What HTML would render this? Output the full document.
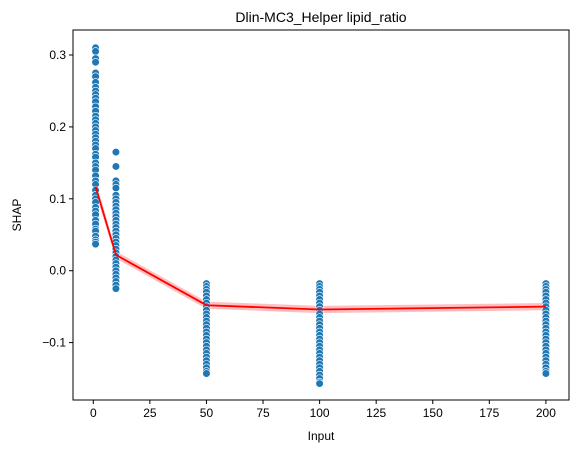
<!DOCTYPE html>
<html><head><meta charset="utf-8"><style>
body{margin:0;background:#fff}
svg text{font-family:"Liberation Sans","DejaVu Sans",sans-serif;fill:#000}
</style></head><body>
<svg id="chart" width="579" height="453" xmlns="http://www.w3.org/2000/svg">
<rect width="579" height="453" fill="#fff"/>
<text x="321" y="22" font-size="14" text-anchor="middle">Dlin-MC3_Helper lipid_ratio</text>
<text x="321" y="440" font-size="12" text-anchor="middle">Input</text>
<text x="0" y="0" font-size="12" text-anchor="middle" transform="translate(21,215) rotate(-90)">SHAP</text>
<g id="ticks"></g>
<g id="band"></g>
<g id="points"></g>
<g id="line"></g>
<rect x="73" y="30" width="496" height="370" fill="none" stroke="#000" stroke-width="1"/>
</svg>
<script>
const xTicks=[0,25,50,75,100,125,150,175,200];
const yTicks=[-0.1,0.0,0.1,0.2,0.3];
const yTickLabels=["\u22120.1","0.0","0.1","0.2","0.3"];
const groupX=[1,10,50,100,200];
const vals1=[0.31,0.305,0.295,0.29,0.275,0.27,0.262,0.255,0.25,0.245,0.24,0.235,0.228,0.222,0.215,0.21,0.205,0.2,0.195,0.19,0.185,0.18,0.175,0.17,0.162,0.158,0.15,0.145,0.14,0.132,0.125,0.12,0.112,0.105,0.1,0.095,0.088,0.083,0.078,0.07,0.065,0.058,0.055,0.048,0.043,0.04,0.037];
const vals10=[0.165,0.145,0.125,0.12,0.115,0.105,0.1,0.095,0.09,0.085,0.08,0.075,0.07,0.065,0.06,0.055,0.05,0.045,0.04,0.035,0.03,0.025,0.02,0.015,0.01,0.005,0.0,-0.005,-0.01,-0.015,-0.02,-0.025];
const vals50=[-0.018,-0.022,-0.026,-0.03,-0.035,-0.04,-0.045,-0.05,-0.055,-0.06,-0.065,-0.07,-0.075,-0.08,-0.085,-0.09,-0.095,-0.1,-0.105,-0.11,-0.115,-0.12,-0.125,-0.13,-0.135,-0.14,-0.143];
const vals100=[-0.018,-0.022,-0.026,-0.03,-0.035,-0.04,-0.045,-0.05,-0.055,-0.06,-0.065,-0.07,-0.075,-0.08,-0.085,-0.09,-0.095,-0.1,-0.105,-0.11,-0.115,-0.12,-0.125,-0.13,-0.135,-0.14,-0.145,-0.15,-0.155,-0.157];
const vals200=[-0.018,-0.022,-0.026,-0.03,-0.035,-0.04,-0.045,-0.05,-0.055,-0.06,-0.065,-0.07,-0.075,-0.08,-0.085,-0.09,-0.095,-0.1,-0.105,-0.11,-0.115,-0.12,-0.125,-0.13,-0.135,-0.14,-0.143];
const meanVals=[0.117,0.022,-0.048,-0.054,-0.050];
const ciLow=[0.108,0.017,-0.053,-0.059,-0.055];
const ciHigh=[0.126,0.027,-0.043,-0.049,-0.045];
const groups=[vals1,vals10,vals50,vals100,vals200];
const NS="http://www.w3.org/2000/svg";
function sx(v){return 93.3+v*2.263;}
function sy(v){return 270.7-v*719;}
function mk(tag,attrs,parent){const e=document.createElementNS(NS,tag);for(const k in attrs)e.setAttribute(k,attrs[k]);document.getElementById(parent).appendChild(e);return e;}
xTicks.forEach(t=>{
  const l=mk('line',{x1:sx(t),x2:sx(t),y1:400,y2:404,stroke:'#000'},'ticks');
  
  
  const tx=mk('text',{x:sx(t),y:417,'font-size':12,'text-anchor':'middle'},'ticks');
  tx.textContent=t;
  
  
});
yTicks.forEach((t,i)=>{
  const l=mk('line',{x1:69,x2:73,y1:sy(t),y2:sy(t),stroke:'#000'},'ticks');
  
  
  const tx=mk('text',{x:66,y:sy(t)+4,'font-size':12,'text-anchor':'end'},'ticks');
  tx.textContent=yTickLabels[i];
  
  
});
groups.forEach((g,gi)=>{
  g.forEach(v=>{
    const c=mk('circle',{cx:sx(groupX[gi]),cy:sy(v),r:3.8,fill:'#1f77b4',stroke:'#fff','stroke-width':0.6},'points');
    
    
  });
});
let bp=groupX.map((x,i)=>sx(x)+','+sy(ciHigh[i])).join(' ')+' '+groupX.slice().reverse().map((x,j)=>sx(x)+','+sy(ciLow[groupX.length-1-j])).join(' ');
const band=mk('polygon',{points:bp,fill:'#ff0000','fill-opacity':0.25},'band');


const ln=mk('polyline',{points:groupX.map((x,i)=>sx(x)+','+sy(meanVals[i])).join(' '),fill:'none',stroke:'#ff0000','stroke-width':1.8},'line');


</script>
</body></html>
